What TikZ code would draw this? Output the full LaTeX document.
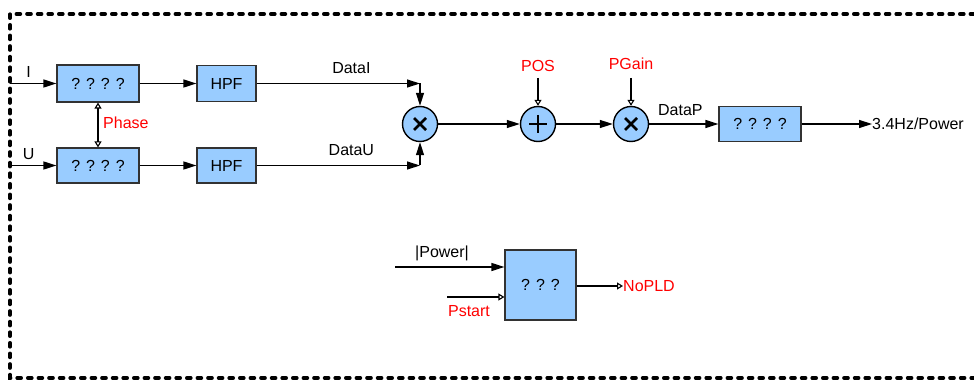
\documentclass[tikz,border=0pt]{standalone}
\usepackage{fontspec}
\setmainfont{Liberation Sans}
\usetikzlibrary{arrows.meta}
\definecolor{boxblue}{RGB}{153,204,255}
\definecolor{edgegray}{RGB}{50,50,50}
\tikzset{
  blk/.style={draw=edgegray,fill=boxblue,line width=1.2pt,inner sep=0pt},
  op/.style={circle,draw=black,fill=boxblue,line width=1.4pt,minimum size=35pt,inner sep=0pt},
  sig/.style={line width=1.3pt,-{Triangle[length=13pt,width=8pt]}},
  ctl/.style={line width=1.1pt,-{Triangle[open,length=6pt,width=7pt]}},
  lbl/.style={font=\fontsize{16}{18}\selectfont,inner sep=0pt},
  rlbl/.style={lbl,text=red}
}
\begin{document}
\begin{tikzpicture}[x=1pt,y=-1pt]
\useasboundingbox (0,0) rectangle (974,382);
% frame
\draw[line width=3.6pt,line cap=round,dash pattern=on 4pt off 6.6pt] (985,14) -- (10,14) -- (10,378) -- (985,378);

% blocks
\node[blk,minimum width=82pt,minimum height=37pt,lbl] (pi) at (98,83.5) {? ? ? ?};
\node[blk,minimum width=82pt,minimum height=35pt,lbl] (pu) at (98,165.5) {? ? ? ?};
\node[blk,minimum width=59pt,minimum height=36pt,lbl] (hi) at (226.5,83.5) {HPF};
\node[blk,minimum width=59pt,minimum height=35pt,lbl] (hu) at (226.5,165.5) {HPF};
\node[blk,minimum width=82pt,minimum height=35pt,lbl] (fl) at (760,124) {? ? ? ?};
\node[blk,minimum width=71pt,minimum height=70pt,lbl] (dt) at (540.5,285) {? ? ?};

% operators
\node[op] (m1) at (420,124) {};
\node[op] (ad) at (538,124) {};
\node[op] (m2) at (631,124) {};
\draw[line width=2.8pt] (m1.center) ++(-6,-6) -- ++(12,12) ++(-12,0) -- ++(12,-12);
\draw[line width=2.8pt] (m2.center) ++(-6,-6) -- ++(12,12) ++(-12,0) -- ++(12,-12);
\draw[line width=2.8pt] (ad.center) ++(-9,0) -- ++(18,0) ++(-9,-9) -- ++(0,18);

% inputs
\coordinate (ini) at (10,83.5);
\coordinate (inu) at (10,165.5);
\draw[sig] (ini) -- (pi) node[lbl,pos=0.4,above=5pt] {I};
\draw[sig] (inu) -- (pu) node[lbl,pos=0.4,above=5pt] {U};
\draw[line width=1.1pt,{Triangle[open,length=6pt,width=7pt]}-{Triangle[open,length=6pt,width=7pt]}] (pi) -- (pu);
\node[rlbl,anchor=west] (ph) at (103,123) {Phase};
\draw[sig] (pi) -- (hi);
\draw[sig] (pu) -- (hu);

% DataI / DataU
\coordinate (ci) at (420,83.5);
\coordinate (cu) at (420,165.5);
\draw[sig] (hi) -- (ci) node[lbl,pos=0.58,above=9pt] {DataI};
\draw[sig] (ci) -- (m1);
\draw[sig] (hu) -- (cu) node[lbl,pos=0.58,above=9pt] {DataU};
\draw[sig] (cu) -- (m1);

\draw[sig] (m1) -- (ad);
\draw[sig] (ad) -- (m2);
\node[rlbl] (pos) at (538,66) {POS};
\node[rlbl] (pg) at (631,64) {PGain};
\draw[ctl] (538,78) -- (ad);
\draw[ctl] (631,78) -- (m2);
\draw[sig] (m2) -- (fl) node[lbl,pos=0.45,above=8pt] {DataP};
\coordinate (out) at (872,124);
\draw[sig] (fl) -- (out);
\node[lbl,anchor=west] (ol) at (out) {3.4Hz/Power};

% detector
\coordinate (pw) at (395,267);
\coordinate (ps) at (447,297);
\draw[sig] (pw) -- (pw -| dt.west);
\node[lbl] (pwl) at (442,253) {|Power|};
\draw[ctl] (ps) -- (ps -| dt.west);
\node[rlbl] (psl) at (469,311) {Pstart};
\coordinate (np) at (623,286);
\draw[ctl] (dt.east |- np) -- (np);
\node[rlbl,anchor=west] (npl) at (np) {NoPLD};
\end{tikzpicture}
\end{document}
